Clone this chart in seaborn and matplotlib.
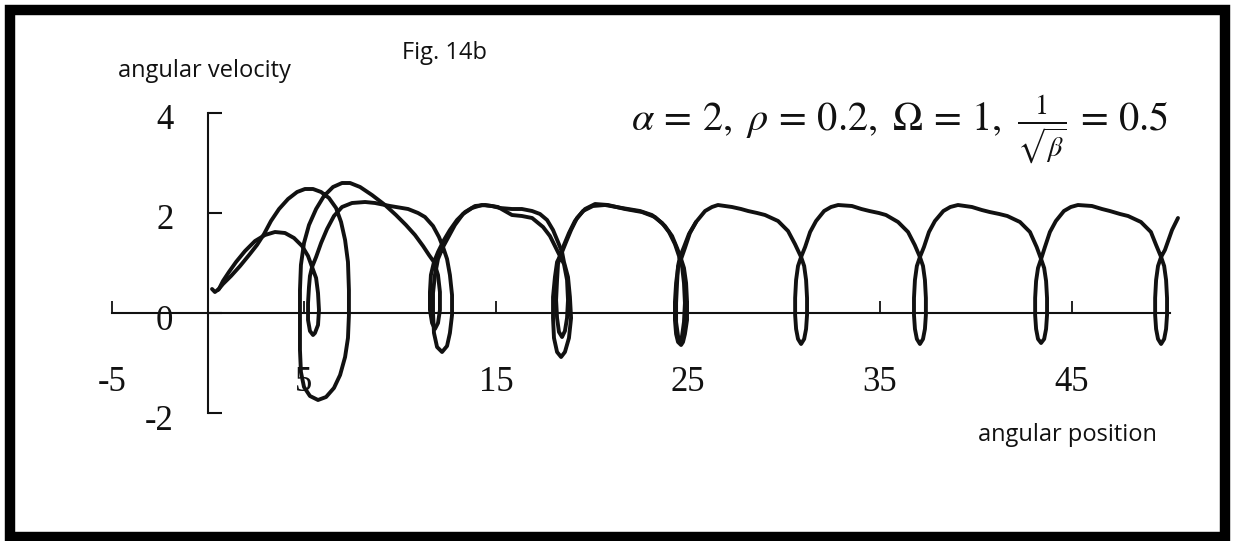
import matplotlib
matplotlib.use("Agg")
import matplotlib.pyplot as plt
import seaborn as sns
from matplotlib.patches import Rectangle
from matplotlib.transforms import ScaledTranslation

sns.set_style("white")
plt.rcParams["font.family"] = ["Open Sans", "DejaVu Sans"]
plt.rcParams["mathtext.fontset"] = "stix"

# ---- phase-space trajectories (angular position, angular velocity) ----
# first trajectory: transient part up to the loop near 24.6
theta_a = [0.21, 0.36, 0.57, 0.78, 1.09, 1.46, 1.93, 2.45, 2.97, 3.49, 4.01, 4.48, 4.90, 5.21,
           5.42, 5.63, 5.73, 5.78, 5.73, 5.57, 5.47, 5.31, 5.21, 5.21, 5.26, 5.31, 5.42,
           5.63, 5.89, 6.20, 6.56, 6.98, 7.50, 8.18, 8.70, 9.48, 10.42, 10.94, 11.30, 11.72,
           12.03, 12.24, 12.45, 12.60, 12.71, 12.71, 12.60, 12.45, 12.19, 11.93, 11.77, 11.72,
           11.72, 11.82, 11.98, 12.24, 12.55, 12.86, 13.28, 13.75, 14.27, 14.79, 15.21, 15.83,
           16.35, 16.88, 17.29, 17.66, 17.97, 18.23, 18.44, 18.54, 18.75, 18.85, 18.91, 18.80,
           18.59, 18.39, 18.18, 18.02, 17.97, 17.97, 18.07, 18.18, 18.44, 18.65, 18.91, 19.22,
           19.64, 20.16, 20.83, 21.72, 22.60, 23.28, 23.80, 24.17, 24.43, 24.64, 24.79, 24.90,
           24.95, 24.95, 24.84, 24.74, 24.64, 24.48, 24.38, 24.32, 24.32, 24.38, 24.48, 24.64]
omega_a = [0.48, 0.42, 0.48, 0.64, 0.82, 1.02, 1.24, 1.44, 1.56, 1.62, 1.60, 1.50, 1.34, 1.14,
           0.92, 0.70, 0.40, 0.06, -0.24, -0.40, -0.44, -0.36, -0.14, 0.20, 0.52, 0.74, 0.92,
           1.12, 1.40, 1.68, 1.94, 2.12, 2.20, 2.22, 2.20, 2.14, 2.08, 2.00, 1.92, 1.74,
           1.52, 1.32, 1.08, 0.76, 0.36, -0.04, -0.40, -0.66, -0.78, -0.68, -0.40, 0.00,
           0.40, 0.76, 1.08, 1.32, 1.54, 1.76, 1.98, 2.10, 2.16, 2.14, 2.10, 2.08,
           2.08, 2.04, 1.98, 1.86, 1.66, 1.42, 1.22, 1.02, 0.72, 0.32, -0.10, -0.50,
           -0.78, -0.88, -0.78, -0.50, -0.10, 0.32, 0.72, 1.02, 1.22, 1.42, 1.66, 1.90,
           2.08, 2.18, 2.16, 2.08, 2.02, 1.92, 1.74, 1.54, 1.30, 1.08, 0.90, 0.60,
           0.22, -0.14, -0.42, -0.58, -0.64, -0.58, -0.42, -0.14, 0.22, 0.60, 0.90, 1.08]

# second trajectory: transient part until it joins the first one
theta_b = [0.52, 0.78, 1.20, 1.67, 2.14, 2.55, 2.92, 3.28, 3.70, 4.17, 4.64, 5.05, 5.47, 5.89,
           6.30, 6.67, 6.93, 7.14, 7.29, 7.34, 7.34, 7.29, 7.14, 6.88, 6.56, 6.15, 5.73, 5.31,
           5.00, 4.84, 4.79, 4.79, 4.79, 4.84, 5.00, 5.26, 5.63, 6.04, 6.51, 6.98, 7.40, 7.92,
           8.54, 9.22, 9.79, 10.31, 10.78, 11.20, 11.51, 11.77, 11.98, 12.08, 12.08, 11.98,
           11.82, 11.67, 11.56, 11.56, 11.61, 11.77, 11.98, 12.29, 12.60, 12.97, 13.39, 13.91,
           14.43, 15.10, 15.83, 16.35, 16.88, 17.45, 17.81, 18.07, 18.33, 18.54, 18.70, 18.75,
           18.70, 18.59, 18.44, 18.28, 18.18, 18.13, 18.18, 18.23, 18.33, 18.54, 18.80, 19.11,
           19.53, 20.05, 20.68, 21.56, 22.50, 23.12, 23.65, 24.01, 24.32, 24.53, 24.69, 24.79,
           24.84, 24.79, 24.69, 24.58, 24.48, 24.38, 24.38, 24.43, 24.48, 24.58, 24.79, 25.05,
           25.42]
omega_b = [0.46, 0.58, 0.74, 0.94, 1.16, 1.36, 1.58, 1.84, 2.08, 2.28, 2.42, 2.48, 2.48, 2.42,
           2.30, 2.10, 1.82, 1.46, 1.02, 0.46, -0.04, -0.50, -0.88, -1.24, -1.50, -1.68, -1.74, -1.66,
           -1.48, -1.18, -0.74, -0.14, 0.46, 0.96, 1.40, 1.76, 2.08, 2.34, 2.52, 2.60, 2.60, 2.52,
           2.36, 2.16, 1.96, 1.76, 1.56, 1.34, 1.16, 1.02, 0.76, 0.42, 0.06, -0.20,
           -0.32, -0.20, 0.06, 0.42, 0.76, 1.02, 1.22, 1.46, 1.66, 1.86, 2.02, 2.14,
           2.16, 2.12, 1.96, 1.94, 1.90, 1.72, 1.54, 1.34, 1.14, 0.98, 0.66, 0.26,
           -0.10, -0.36, -0.48, -0.38, -0.10, 0.26, 0.66, 0.98, 1.14, 1.36, 1.60, 1.84,
           2.04, 2.14, 2.16, 2.10, 2.04, 1.96, 1.80, 1.62, 1.38, 1.14, 0.94, 0.60,
           0.20, -0.18, -0.46, -0.56, -0.46, -0.18, 0.20, 0.60, 0.94, 1.12, 1.32, 1.58,
           1.82]

# settled motion: one swing over the top followed by a small backward loop
theta_c1 = [24.64, 24.84, 25.10, 25.42, 25.89, 26.25, 26.56, 27.29, 27.76, 28.13, 28.60, 29.01,
            29.69, 30.21, 30.57, 30.89, 31.05, 31.15, 31.20, 31.20, 31.15, 31.05, 30.89, 30.73,
            30.63, 30.58, 30.58, 30.63, 30.73, 30.89]
omega_c1 = [1.08, 1.30, 1.60, 1.82, 2.04, 2.12, 2.16, 2.12, 2.08, 2.04, 2.00, 1.96,
            1.84, 1.64, 1.38, 1.12, 0.94, 0.66, 0.30, -0.04, -0.32, -0.52, -0.62, -0.52,
            -0.32, -0.04, 0.30, 0.66, 0.94, 1.12]
theta_c2 = [30.89, 31.10, 31.36, 31.67, 32.09, 32.45, 32.82, 33.54, 34.03, 34.45, 34.94, 35.31,
            35.94, 36.46, 36.81, 37.08, 37.24, 37.34, 37.39, 37.39, 37.34, 37.24, 37.08, 36.92,
            36.82, 36.77, 36.77, 36.82, 36.92, 37.08]
omega_c2 = [1.12, 1.32, 1.62, 1.84, 2.04, 2.12, 2.16, 2.14, 2.08, 2.04, 2.00, 1.96,
            1.82, 1.62, 1.36, 1.12, 0.94, 0.66, 0.30, -0.04, -0.32, -0.52, -0.62, -0.52,
            -0.32, -0.04, 0.30, 0.66, 0.94, 1.12]
theta_c3 = [37.08, 37.29, 37.55, 37.86, 38.30, 38.66, 39.06, 39.79, 40.30, 40.71, 41.21, 41.63,
            42.29, 42.81, 43.16, 43.39, 43.55, 43.65, 43.70, 43.70, 43.65, 43.55, 43.39, 43.23,
            43.13, 43.08, 43.08, 43.13, 43.23, 43.39]
omega_c3 = [1.12, 1.32, 1.62, 1.84, 2.04, 2.12, 2.16, 2.12, 2.06, 2.02, 1.98, 1.94,
            1.82, 1.62, 1.32, 1.08, 0.90, 0.64, 0.30, -0.04, -0.32, -0.52, -0.60, -0.52,
            -0.32, -0.04, 0.30, 0.64, 0.90, 1.08]
theta_c4 = [43.39, 43.59, 43.85, 44.16, 44.58, 44.94, 45.31, 46.04, 46.56, 46.97, 47.50, 47.92,
            48.59, 49.11, 49.38, 49.64, 49.80, 49.90, 49.95, 49.95, 49.90, 49.80, 49.64, 49.48,
            49.38, 49.33, 49.33, 49.38, 49.48, 49.64, 49.84, 50.21, 50.52]
omega_c4 = [1.08, 1.32, 1.62, 1.84, 2.04, 2.12, 2.16, 2.14, 2.08, 2.04, 1.98, 1.94,
            1.82, 1.62, 1.36, 1.12, 0.94, 0.66, 0.30, -0.04, -0.32, -0.52, -0.62, -0.52,
            -0.32, -0.04, 0.30, 0.66, 0.94, 1.12, 1.26, 1.66, 1.90]

segments = [(theta_a, omega_a), (theta_b, omega_b), (theta_c1, omega_c1),
            (theta_c2, omega_c2), (theta_c3, omega_c3), (theta_c4, omega_c4)]

# axis ticks
x_ticks = [-5, 5, 15, 25, 35, 45]
x_tick_labels = ["-5", "5", "15", "25", "35", "45"]
y_ticks = [-2, 0, 2, 4]
y_tick_labels = ["-2", "0", "2", "4"]

# ---- figure ----
W, H = 1234, 541
fig = plt.figure(figsize=(W / 100, H / 100), dpi=100)
fig.patch.set_facecolor("white")
ax = fig.add_axes([50 / W, 71 / H, 1160 / W, 410 / H])
ax.set_facecolor("white")

for th, om in segments:
    sns.lineplot(x=th, y=om, sort=False, estimator=None, color="#111111",
                 linewidth=2.8, ax=ax, solid_joinstyle="round", solid_capstyle="round")

ax.set_xlim(-8.229, 52.1875)
ax.set_ylim(-3.14, 5.06)

# axes crossing at the origin
for side in ("top", "right"):
    ax.spines[side].set_visible(False)
ax.spines["left"].set_position(("data", 0))
ax.spines["left"].set_bounds(-2, 4)
ax.spines["bottom"].set_position(("data", 0))
ax.spines["bottom"].set_bounds(-5, 50.1)
for side in ("left", "bottom"):
    ax.spines[side].set_color("#111111")
    ax.spines[side].set_linewidth(1.5)

ax.set_xticks(x_ticks)
ax.set_xticklabels(x_tick_labels)
ax.set_yticks(y_ticks)
ax.set_yticklabels(y_tick_labels)
ax.tick_params(axis="x", bottom=True, direction="in", length=8.6, width=1.3, pad=38,
               labelsize=25, colors="#111111")
ax.tick_params(axis="y", left=True, direction="in", length=10, width=1.5, pad=25,
               labelsize=25, colors="#111111")
for lab in ax.get_xticklabels() + ax.get_yticklabels():
    lab.set_fontfamily("Liberation Serif")
for lab in ax.get_yticklabels():
    lab.set_transform(lab.get_transform() + ScaledTranslation(0, -0.04, fig.dpi_scale_trans))

ax.set_xlabel("")
ax.set_ylabel("")

# titles and axis names
fig.text(204 / W, 1 - 71 / H, "angular velocity", ha="center", va="center",
         fontsize=17, color="#111111")
fig.text(444 / W, 1 - 53 / H, "Fig. 14b", ha="center", va="center",
         fontsize=17, color="#111111")
fig.text(1067 / W, 1 - 435 / H, "angular position", ha="center", va="center",
         fontsize=17, color="#111111")
fig.text(900 / W, 1 - 129 / H,
         r"$\alpha\,=\,2,\ \rho\,=\,0.2,\ \Omega\,=\,1,\ \frac{1}{\sqrt{\beta}}\,=\,0.5$",
         ha="center", va="center", fontsize=29, color="#111111")

# heavy frame around the whole figure
fig.add_artist(Rectangle((10 / W, 4 / H), (1225 - 10) / W, (531 - 4) / H,
                         transform=fig.transFigure, fill=False,
                         edgecolor="black", linewidth=7.5))

fig.savefig("out.png", dpi=100, facecolor="white")
